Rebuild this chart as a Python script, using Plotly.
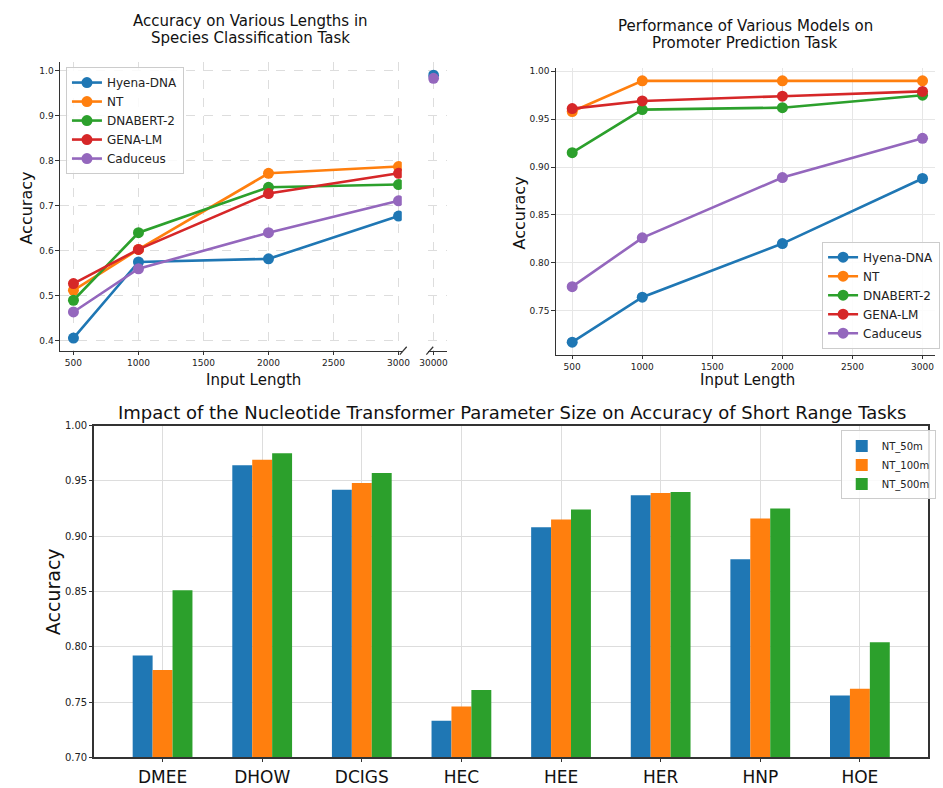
import plotly.graph_objects as go

# ---------------- data ----------------
models = ["Hyena-DNA", "NT", "DNABERT-2", "GENA-LM", "Caduceus"]
colors = ["#1f77b4", "#ff7f0e", "#2ca02c", "#d62728", "#9467bd"]

species_lengths = [500, 1000, 2000, 3000]
species_acc = {
    "Hyena-DNA": [0.406, 0.575, 0.582, 0.677],
    "NT": [0.512, 0.603, 0.772, 0.787],
    "DNABERT-2": [0.490, 0.640, 0.741, 0.747],
    "GENA-LM": [0.527, 0.603, 0.727, 0.772],
    "Caduceus": [0.464, 0.560, 0.640, 0.711],
}
long_length = [30000]
long_acc = {"Hyena-DNA": [0.990], "Caduceus": [0.983]}

promoter_lengths = [500, 1000, 2000, 3000]
promoter_acc = {
    "Hyena-DNA": [0.717, 0.764, 0.820, 0.888],
    "NT": [0.958, 0.990, 0.990, 0.990],
    "DNABERT-2": [0.915, 0.960, 0.962, 0.975],
    "GENA-LM": [0.961, 0.969, 0.974, 0.979],
    "Caduceus": [0.775, 0.826, 0.889, 0.930],
}

tasks = ["DMEE", "DHOW", "DCIGS", "HEC", "HEE", "HER", "HNP", "HOE"]
nt_sizes = ["NT_50m", "NT_100m", "NT_500m"]
nt_acc = {
    "NT_50m": [0.792, 0.964, 0.942, 0.733, 0.908, 0.937, 0.879, 0.756],
    "NT_100m": [0.779, 0.969, 0.948, 0.746, 0.915, 0.939, 0.916, 0.762],
    "NT_500m": [0.851, 0.975, 0.957, 0.761, 0.924, 0.940, 0.925, 0.804],
}
bar_colors = ["#1f77b4", "#ff7f0e", "#2ca02c"]

# ---------------- figure ----------------
W, H = 943, 788
FONT = "DejaVu Sans"
fig = go.Figure()

def px(x):
    return x / W

def py(y):
    return 1 - y / H

# top-left: species classification
for m, c in zip(models, colors):
    fig.add_trace(go.Scatter(
        x=species_lengths, y=species_acc[m], name=m, mode="lines+markers",
        line=dict(color=c, width=2.6), marker=dict(color=c, size=11),
        xaxis="x", yaxis="y", legend="legend"))
for m, c in zip(models, colors):
    if m in long_acc:
        fig.add_trace(go.Scatter(
            x=long_length, y=long_acc[m], name=m, mode="markers",
            marker=dict(color=c, size=11), showlegend=False,
            xaxis="x2", yaxis="y"))

# top-right: promoter
for m, c in zip(models, colors):
    fig.add_trace(go.Scatter(
        x=promoter_lengths, y=promoter_acc[m], name=m, mode="lines+markers",
        line=dict(color=c, width=2.6), marker=dict(color=c, size=11),
        xaxis="x3", yaxis="y3", legend="legend2"))

# bottom: bars
for i, (s, c) in enumerate(zip(nt_sizes, bar_colors)):
    fig.add_trace(go.Bar(
        x=list(range(len(tasks))), y=[v - 0.70 for v in nt_acc[s]], base=0.70,
        name=s, marker=dict(color=c, line=dict(width=0)), width=0.2,
        offset=-0.3 + 0.2 * i, xaxis="x4", yaxis="y4", legend="legend3"))

grid_dash = dict(showgrid=True, gridcolor="#dddddd", griddash="dash", gridwidth=1)
tickfont_small = dict(family=FONT, size=9, color="#222")

fig.update_layout(
    width=W, height=H, margin=dict(l=0, r=0, t=0, b=0),
    paper_bgcolor="white", plot_bgcolor="white",
    font=dict(family=FONT, color="#222"),
    barmode="overlay",
    xaxis=dict(domain=[px(52), px(400)], range=[397, 3025], tickvals=[500, 1000, 1500, 2000, 2500, 3000],
               anchor="y", showline=True, linecolor="#333", linewidth=1.2, ticks="outside",
               ticklen=3.5, tickcolor="#333", tickfont=tickfont_small, zeroline=False, **grid_dash),
    xaxis2=dict(domain=[px(427), px(446)], range=[29947, 30137], tickvals=long_length,
                ticktext=[str(v) for v in long_length],
                anchor="y", showline=True, linecolor="#333", linewidth=1.2, ticks="outside",
                ticklen=3.5, tickcolor="#333", tickfont=tickfont_small, zeroline=False, **grid_dash),
    yaxis=dict(domain=[py(350), py(57)], range=[0.378, 1.019], tickvals=[0.4, 0.5, 0.6, 0.7, 0.8, 0.9, 1.0],
               tickformat=".1f", anchor="x", showline=True, linecolor="#333", linewidth=1.2,
               ticks="outside", ticklen=3.5, tickcolor="#333", tickfont=tickfont_small,
               zeroline=False, **grid_dash),
    xaxis3=dict(domain=[px(557), px(943)], range=[384, 3089], tickvals=[500, 1000, 1500, 2000, 2500, 3000],
                anchor="y3", showline=True, linecolor="#333", linewidth=1.2, ticks="outside",
                ticklen=3.5, tickcolor="#333", tickfont=tickfont_small, zeroline=False,
                showgrid=True, gridcolor="#e6e6e6"),
    yaxis3=dict(domain=[py(354), py(63)], range=[0.704, 1.0034], tickvals=[0.75, 0.80, 0.85, 0.90, 0.95, 1.00],
                tickformat=".2f", anchor="x3", showline=True, linecolor="#333", linewidth=1.2,
                ticks="outside", ticklen=3.5, tickcolor="#333", tickfont=tickfont_small,
                zeroline=False, showgrid=True, gridcolor="#e6e6e6"),
    xaxis4=dict(domain=[px(87), px(936)], range=[-0.684, 7.685], tickvals=list(range(len(tasks))),
                ticktext=tasks, anchor="y4", showline=True, mirror=True, linecolor="#333", linewidth=1.5,
                ticks="outside", ticklen=3, tickcolor="#333",
                tickfont=dict(family=FONT, size=17, color="#111"), zeroline=False,
                showgrid=True, gridcolor="#dddddd"),
    yaxis4=dict(domain=[py(763), py(426)], range=[0.70, 1.00], tickvals=[0.70, 0.75, 0.80, 0.85, 0.90, 0.95, 1.00],
                tickformat=".2f", anchor="x4", showline=True, mirror=True, linecolor="#333", linewidth=1.5,
                ticks="outside", ticklen=3.5, tickcolor="#333", tickfont=dict(family=FONT, size=10, color="#222"),
                zeroline=False, showgrid=True, gridcolor="#dddddd"),
    legend=dict(x=px(58), y=py(62), xanchor="left", yanchor="top", bgcolor="rgba(255,255,255,0.85)",
                bordercolor="#cccccc", borderwidth=1, font=dict(family=FONT, size=12, color="#222"),
                tracegroupgap=0, itemwidth=30),
    legend2=dict(x=px(828), y=py(348), xanchor="left", yanchor="bottom", bgcolor="rgba(255,255,255,0.85)",
                 bordercolor="#cccccc", borderwidth=1, font=dict(family=FONT, size=12, color="#222"),
                 itemwidth=30),
    legend3=dict(x=px(847), y=py(431), xanchor="left", yanchor="top", bgcolor="rgba(255,255,255,0.85)",
                 bordercolor="#cccccc", borderwidth=1, font=dict(family=FONT, size=10, color="#222"),
                 itemwidth=30),
)

# break marks
for x0 in (398, 425):
    fig.add_shape(type="line", xref="paper", yref="paper", x0=px(x0), x1=px(x0 + 7),
                  y0=py(354), y1=py(346), line=dict(color="#333", width=1.2))

ann = []
def text(x, y, s, size, xa="center", ya="middle", angle=0):
    ann.append(dict(x=px(x), y=py(y), xref="paper", yref="paper", text=s, showarrow=False,
                    xanchor=xa, yanchor=ya, textangle=angle,
                    font=dict(family=FONT, size=size, color="#111")))

text(246, 15, "Accuracy on Various Lengths in", 15)
text(246, 33, "Species Classification Task", 15)
text(750, 20, "Performance of Various Models on", 15)
text(750, 38, "Promoter Prediction Task", 15)
text(512, 413, "Impact of the Nucleotide Transformer Parameter Size on Accuracy of Short Range Tasks", 18)
text(249, 380, "Input Length", 15)
text(752, 380, "Input Length", 15)
text(18, 205, "Accuracy", 16, angle=-90)
text(520, 210, "Accuracy", 16, angle=-90)
text(45, 595, "Accuracy", 19, angle=-90)
fig.update_layout(annotations=ann)

fig.write_html(
    "out.html",
    config={"displayModeBar": False},
    post_script=(
        "document.documentElement.style.margin='0';document.body.style.margin='0';"
        "document.body.style.padding='0';document.body.style.overflow='hidden';"
        "document.documentElement.style.overflow='hidden';"
    ),
)
